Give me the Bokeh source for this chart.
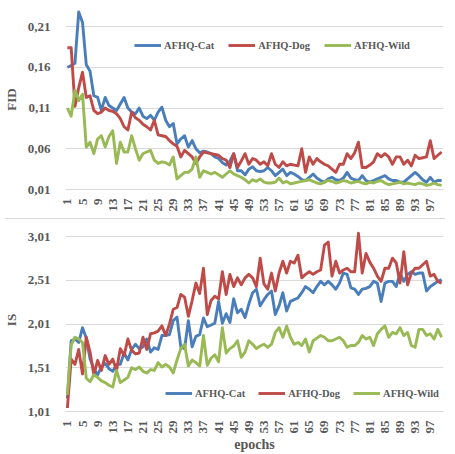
import math
from bokeh.plotting import figure
from bokeh.layouts import column
from bokeh.models import FixedTicker, CustomJSTickFormatter, Legend, LegendItem, Range1d, Div
from bokeh.embed import file_html
from bokeh.resources import INLINE

epochs = list(range(1, 101))
x_ticks = list(range(1, 101, 4))
series_names = ["AFHQ-Cat", "AFHQ-Dog", "AFHQ-Wild"]

fid_ticks = [0.01, 0.06, 0.11, 0.16, 0.21]
is_ticks = [1.01, 1.51, 2.01, 2.51, 3.01]

fid_cat = [0.160, 0.162, 0.165, 0.228, 0.215, 0.163, 0.155, 0.125, 0.123, 0.107,
           0.123, 0.113, 0.110, 0.107, 0.115, 0.123, 0.110, 0.105, 0.103, 0.110,
           0.100, 0.097, 0.101, 0.095, 0.105, 0.111, 0.095, 0.087, 0.091, 0.066,
           0.072, 0.076, 0.062, 0.070, 0.060, 0.055, 0.057, 0.056, 0.054, 0.050,
           0.048, 0.043, 0.040, 0.045, 0.054, 0.033, 0.033, 0.028, 0.035, 0.038,
           0.033, 0.032, 0.033, 0.037, 0.033, 0.027, 0.031, 0.035, 0.027, 0.031,
           0.029, 0.026, 0.022, 0.021, 0.025, 0.029, 0.024, 0.021, 0.019, 0.023,
           0.025, 0.022, 0.021, 0.024, 0.031, 0.024, 0.022, 0.021, 0.027, 0.021,
           0.019, 0.021, 0.023, 0.025, 0.027, 0.023, 0.021, 0.021, 0.019, 0.019,
           0.023, 0.027, 0.031, 0.027, 0.022, 0.019, 0.025, 0.019, 0.021, 0.021]

fid_dog = [0.184, 0.184, 0.112, 0.135, 0.154, 0.123, 0.125, 0.107, 0.103, 0.105,
           0.110, 0.107, 0.106, 0.103, 0.097, 0.087, 0.083, 0.105, 0.098, 0.095,
           0.090, 0.087, 0.083, 0.095, 0.077, 0.076, 0.075, 0.070, 0.066, 0.063,
           0.050, 0.058, 0.054, 0.050, 0.042, 0.050, 0.056, 0.055, 0.054, 0.053,
           0.052, 0.048, 0.046, 0.037, 0.054, 0.037, 0.045, 0.054, 0.041, 0.048,
           0.046, 0.041, 0.044, 0.039, 0.054, 0.041, 0.037, 0.044, 0.039, 0.041,
           0.040, 0.039, 0.060, 0.031, 0.050, 0.041, 0.048, 0.044, 0.041, 0.039,
           0.035, 0.031, 0.041, 0.041, 0.054, 0.048, 0.055, 0.068, 0.037, 0.037,
           0.040, 0.044, 0.054, 0.050, 0.054, 0.050, 0.041, 0.050, 0.050, 0.041,
           0.046, 0.039, 0.052, 0.048, 0.049, 0.050, 0.070, 0.048, 0.052, 0.056]

fid_wild = [0.110, 0.100, 0.132, 0.119, 0.127, 0.062, 0.068, 0.054, 0.072, 0.076,
            0.062, 0.075, 0.082, 0.042, 0.068, 0.056, 0.056, 0.076, 0.060, 0.046,
            0.054, 0.056, 0.058, 0.046, 0.042, 0.044, 0.043, 0.040, 0.050, 0.023,
            0.027, 0.031, 0.031, 0.035, 0.050, 0.025, 0.033, 0.031, 0.029, 0.031,
            0.028, 0.025, 0.029, 0.033, 0.029, 0.027, 0.025, 0.022, 0.018, 0.022,
            0.020, 0.023, 0.019, 0.018, 0.018, 0.019, 0.024, 0.018, 0.020, 0.017,
            0.018, 0.019, 0.020, 0.021, 0.022, 0.020, 0.018, 0.017, 0.019, 0.021,
            0.020, 0.018, 0.019, 0.021, 0.020, 0.018, 0.019, 0.020, 0.018, 0.017,
            0.019, 0.018, 0.020, 0.021, 0.018, 0.016, 0.017, 0.018, 0.019, 0.017,
            0.018, 0.017, 0.016, 0.018, 0.017, 0.015, 0.016, 0.018, 0.016, 0.015]

is_cat = [1.16, 1.82, 1.84, 1.80, 1.97, 1.85, 1.61, 1.50, 1.43, 1.52,
          1.56, 1.50, 1.47, 1.55, 1.55, 1.68, 1.60, 1.72, 1.78, 1.73,
          1.75, 1.84, 1.69, 1.74, 1.72, 1.88, 1.88, 1.89, 2.05, 2.09,
          1.75, 1.73, 2.05, 1.75, 1.87, 1.89, 2.08, 1.98, 2.00, 2.02,
          2.27, 2.02, 2.13, 2.03, 2.30, 2.14, 2.18, 2.085, 2.24, 2.37,
          2.41, 2.22, 2.29, 2.35, 2.39, 2.12, 2.22, 2.37, 2.16, 2.27,
          2.29, 2.31, 2.37, 2.44, 2.41, 2.37, 2.44, 2.50, 2.46, 2.50,
          2.46, 2.41, 2.48, 2.595, 2.58, 2.425, 2.41, 2.35, 2.41, 2.42,
          2.44, 2.50, 2.48, 2.27, 2.48, 2.50, 2.50, 2.44, 2.595, 2.50,
          2.58, 2.61, 2.58, 2.595, 2.595, 2.39, 2.44, 2.47, 2.50, 2.52]

is_dog = [1.05, 1.61, 1.55, 1.72, 1.44, 1.86, 1.69, 1.43, 1.595, 1.48,
          1.65, 1.55, 1.61, 1.48, 1.73, 1.65, 1.84, 1.71, 1.67, 1.68,
          1.86, 1.72, 1.90, 1.91, 1.93, 1.99, 1.88, 2.01, 2.18, 2.20,
          2.35, 2.32, 2.10, 2.28, 2.48, 2.36, 2.65, 2.12, 2.28, 2.33,
          2.30, 2.61, 2.35, 2.58, 2.44, 2.54, 2.46, 2.54, 2.58, 2.54,
          2.44, 2.765, 2.47, 2.41, 2.595, 2.39, 2.595, 2.73, 2.595, 2.73,
          2.71, 2.80, 2.54, 2.58, 2.61, 2.58, 2.61, 2.63, 2.915, 2.95,
          2.56, 2.73, 2.595, 2.63, 2.65, 2.61, 2.61, 3.05, 2.595, 2.82,
          2.72, 2.65, 2.56, 2.50, 2.65, 2.65, 2.765, 2.71, 2.48, 2.84,
          2.46, 2.595, 2.65, 2.65, 2.69, 2.73, 2.56, 2.58, 2.50, 2.48]

is_wild = [1.20, 1.77, 1.86, 1.84, 1.80, 1.39, 1.35, 1.43, 1.40, 1.36,
           1.34, 1.31, 1.29, 1.48, 1.34, 1.37, 1.40, 1.51, 1.49, 1.52,
           1.47, 1.45, 1.49, 1.48, 1.57, 1.52, 1.55, 1.52, 1.45, 1.60,
           1.73, 1.78, 1.53, 1.60, 1.57, 1.53, 1.88, 1.54, 1.62, 1.66,
           1.58, 1.97, 1.68, 1.73, 1.76, 1.82, 1.63, 1.69, 1.82, 1.78,
           1.73, 1.76, 1.78, 1.745, 1.78, 1.915, 1.97, 1.86, 1.99, 1.86,
           1.78, 1.80, 1.765, 1.84, 1.69, 1.82, 1.85, 1.88, 1.86, 1.82,
           1.82, 1.84, 1.86, 1.82, 1.745, 1.765, 1.765, 1.80, 1.88, 1.84,
           1.86, 1.765, 1.90, 1.95, 1.99, 1.86, 1.915, 1.90, 1.97, 1.88,
           1.915, 1.765, 1.745, 1.95, 1.95, 1.88, 1.90, 1.84, 1.95, 1.86]

COLORS = ["#4A7EBB", "#BE4B48", "#98B954"]
TXT = "#595959"
GRID = "#d9d9d9"
FONT = "Liberation Serif"

fmt = CustomJSTickFormatter(code="return tick.toFixed(2).replace('.', ',');")


def make_fig(width, height, y_start, y_end, yticks, ylabel, xlabel, borders, series, legend_loc, spacing):
    p = figure(width=width, height=height, output_backend="svg", toolbar_location=None,
               x_range=Range1d(0.5, 100.5), y_range=Range1d(y_start, y_end),
               min_border_left=borders[0], min_border_right=borders[1],
               min_border_top=borders[2], min_border_bottom=borders[3])
    p.outline_line_color = None
    p.background_fill_color = "white"
    p.border_fill_color = "white"
    p.xgrid.grid_line_color = None
    p.ygrid.grid_line_color = GRID
    p.ygrid.grid_line_width = 1

    p.yaxis.ticker = FixedTicker(ticks=yticks)
    p.yaxis.formatter = fmt
    p.xaxis.ticker = FixedTicker(ticks=x_ticks)
    for ax in (p.xaxis[0], p.yaxis[0]):
        ax.major_label_text_font = FONT
        ax.major_label_text_font_style = "bold"
        ax.major_label_text_font_size = "13px"
        ax.major_label_text_color = TXT
        ax.major_tick_line_color = None
        ax.minor_tick_line_color = None
        ax.axis_label_text_font = FONT
        ax.axis_label_text_font_style = "bold"
        ax.axis_label_text_color = TXT
    p.yaxis.axis_line_color = None
    p.xaxis.axis_line_color = GRID
    p.xaxis.major_label_orientation = math.pi / 2
    p.yaxis.major_label_standoff = 9
    p.xaxis.major_label_standoff = 3
    p.yaxis.axis_label = ylabel
    p.yaxis.axis_label_text_font_size = "13px"
    p.yaxis.axis_label_standoff = 6
    if xlabel:
        p.xaxis.axis_label = xlabel
        p.xaxis.axis_label_text_font_size = "14px"
        p.xaxis.axis_label_standoff = 0

    items = []
    for name, vals, col in zip(series_names, series, COLORS):
        r = p.line(epochs, vals, line_color=col, line_width=2.9, line_join="round")
        items.append(LegendItem(label=name, renderers=[r]))
    leg = Legend(items=items, location=legend_loc, orientation="horizontal",
                 background_fill_alpha=0, border_line_color=None,
                 label_text_font=FONT, label_text_font_style="bold",
                 label_text_font_size="10.5px", label_text_color=TXT,
                 glyph_width=27, glyph_height=14, label_height=14,
                 label_standoff=3, spacing=spacing, padding=0, margin=0)
    p.add_layout(leg, "center")
    return p


p_top = make_fig(455, 218, 0.01, 0.2309, fid_ticks, "FID", None,
                 (60, 12, 9, 29), [fid_cat, fid_dog, fid_wild], (69, 137), 14)
sep = Div(text="", width=440, height=1, margin=(0, 0, 0, 5),
          styles={"background-color": GRID, "overflow": "hidden"})
p_bot = make_fig(455, 235, 1.01, 3.105, is_ticks, "IS", "epochs",
                 (63, 8, 9, 41), [is_cat, is_dog, is_wild], (100, 11), 13)

layout = column(p_top, sep, p_bot, spacing=0)
open("out.html", "w").write(file_html(layout, INLINE))
